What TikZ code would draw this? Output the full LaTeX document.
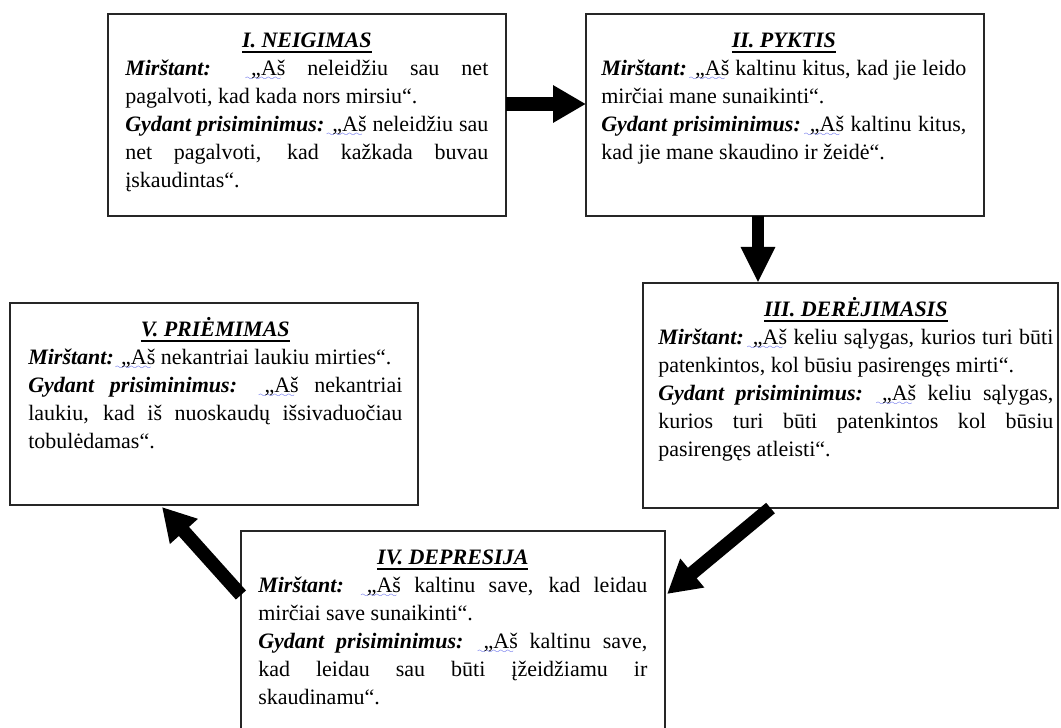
\documentclass[tikz,border=0pt]{standalone}
\usepackage{fontspec}
\setmainfont{Liberation Serif}
\usetikzlibrary{arrows.meta,calc}

\definecolor{spellblue}{RGB}{70,80,230}
\font\sixly=lasy6
\setlength{\parindent}{0pt}
\newcommand\spell[1]{\setbox0\hbox{#1}\rlap{\kern-4pt\textcolor{spellblue}{\lower3.5pt\hbox to \dimexpr\wd0+4pt\relax{\leaders\hbox{\sixly\char58}\hfil}}}\box0\relax}
\newcommand\lbl[1]{\textbf{\textit{#1}}}
\newcommand\ttl[1]{{\centering\strut\setbox0\hbox{\textbf{\textit{#1}}}\rlap{\rule[-4.2pt]{\wd0}{1.3pt}}\box0\relax\par}}

\begin{document}
\begin{tikzpicture}[x=0.025cm,y=-0.025cm,
    box/.style={draw=black!85, line width=1.3pt, inner sep=0pt, outer sep=0pt},
    txt/.style={anchor=north west, inner sep=0pt, align=justify,
      font=\fontsize{15.65}{19.9}\selectfont},
    bigarrow/.style={line width=0.34cm, -{Triangle[length=0.82cm,width=0.88cm]}}]
  \useasboundingbox (0,0) rectangle (1061,728);

  % boxes
  \node[box, minimum width=9.95cm, minimum height=5.05cm] (nI) at (307,115) {};
  \node[box, minimum width=9.95cm, minimum height=5.05cm] (nII) at (785,115) {};
  \node[box, minimum width=10.375cm, minimum height=5.625cm] (nIII) at (850.5,395.5) {};
  \node[box, minimum width=10.6cm, minimum height=5.1cm] (nIV) at (453,633) {};
  \node[box, minimum width=10.2cm, minimum height=5.05cm] (nV) at (214,404) {};

  % texts
  \node[txt, text width=9.075cm] (tI) at (125,27.4) {%
    \ttl{I. NEIGIMAS}
    \lbl{Mirštant:} \spell{„Aš} neleidžiu sau net\linebreak pagalvoti, kad kada nors mirsiu“.\par
    \lbl{Gydant prisiminimus:} \spell{„Aš} neleidžiu sau\linebreak net pagalvoti, kad kažkada buvau\linebreak įskaudintas“.};
  \node[txt, text width=9.125cm] (tII) at (601,27.4) {%
    \ttl{II. PYKTIS}
    \lbl{Mirštant:} \spell{„Aš} kaltinu kitus, kad jie leido\linebreak mirčiai mane sunaikinti“.\par
    \lbl{Gydant prisiminimus:} \spell{„Aš} kaltinu kitus,\linebreak kad jie mane skaudino ir žeidė“.};
  \node[txt, text width=9.875cm] (tIII) at (658,296.4) {%
    \ttl{III. DERĖJIMASIS}
    \lbl{Mirštant:} \spell{„Aš} keliu sąlygas, kurios turi būti\linebreak patenkintos, kol būsiu pasirengęs mirti“.\par
    \lbl{Gydant prisiminimus:} \spell{„Aš} keliu sąlygas,\linebreak kurios turi būti patenkintos kol būsiu\linebreak pasirengęs atleisti“.};
  \node[txt, text width=9.725cm] (tIV) at (258,544.4) {%
    \ttl{IV. DEPRESIJA}
    \lbl{Mirštant:} \spell{„Aš} kaltinu save, kad leidau\linebreak mirčiai save sunaikinti“.\par
    \lbl{Gydant prisiminimus:} \spell{„Aš} kaltinu save,\linebreak kad leidau sau būti įžeidžiamu ir\linebreak skaudinamu“.};
  \node[txt, text width=9.35cm] (tV) at (28,316.4) {%
    \ttl{V. PRIĖMIMAS}
    \lbl{Mirštant:} \spell{„Aš} nekantriai laukiu mirties“.\par
    \lbl{Gydant prisiminimus:} \spell{„Aš} nekantriai\linebreak laukiu, kad iš nuoskaudų išsivaduočiau\linebreak tobulėdamas“.};

  % arrows
  \draw[bigarrow] ($(nI.east)+(0,-11)$) -- ($(nII.west)+(0,-11)$);
  \draw[bigarrow, line width=0.28cm, -{Triangle[length=0.9cm,width=0.8cm]}]
    ($(nII.south)+(-27,0)$) -- ($(nIII.north)+(-92.5,0)$);
  \draw[bigarrow] ($(nIII.south)+(-80,0)$) -- ($(nIV.east)+(2,-39)$);
  \draw[bigarrow] ($(nIV.west)+(0,-38)$) -- ($(nV.south)+(-52,2)$);
\end{tikzpicture}
\end{document}
